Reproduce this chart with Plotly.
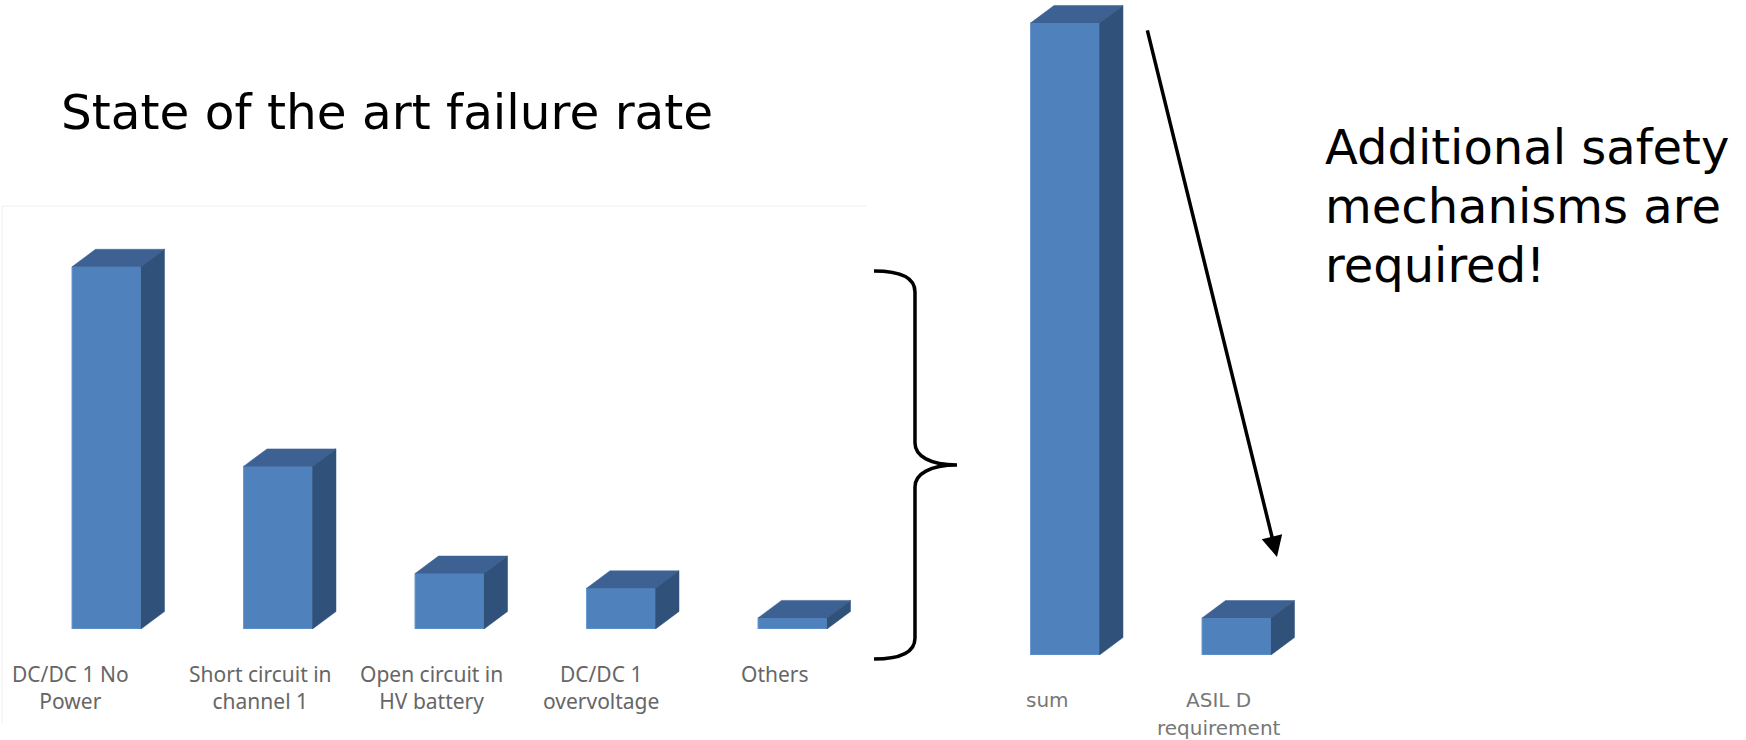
import plotly.graph_objects as go

# ---- data ---------------------------------------------------------------
failure_modes = [
    "DC/DC 1 No<br>Power",
    "Short circuit in<br>channel 1",
    "Open circuit in<br>HV battery",
    "DC/DC 1<br>overvoltage",
    "Others",
]
failure_rates = [98, 44, 15, 11, 3]

summary_labels = ["sum", "ASIL D<br>requirement"]
asil_d_requirement = 10
summary_values = [sum(failure_rates), asil_d_requirement]

title_text = "State of the art failure rate"
note_lines = ["Additional safety", "mechanisms are", "required!"]

# ---- page geometry and style --------------------------------------------
W, H = 1746, 740
PX_PER_CAT = 171.5          # horizontal pixels per category step
PX_PER_UNIT = 3.696         # vertical pixels per failure-rate unit
BAR_W = 69 / PX_PER_CAT     # front-face width in category units
DEPTH_X = 23.5 / PX_PER_CAT # 3-D extrusion, horizontal
DEPTH_Y = 17.5 / PX_PER_UNIT  # 3-D extrusion, vertical

FRONT = "#4F81BD"
TOP = "#3C6192"
SIDE = "#30517A"
EDGE = "#6A9AD2"

# left panel: pixel box and first-category centre / baseline
L_X0, L_X1, L_C0 = 2, 866, 106.5
L_TOP, L_BASE = 206, 629
# right panel
R_X0, R_X1, R_C0 = 960, 1420, 1065
R_TOP, R_BASE = 0, 655


def px(x):
    return x / W


def py(y):
    return 1 - y / H


def faces(values):
    """Top and side parallelograms of extruded bars, in axis units."""
    tx, ty, sx, sy = [], [], [], []
    for i, v in enumerate(values):
        l, r = i - BAR_W / 2, i + BAR_W / 2
        tx += [l, r, r + DEPTH_X, l + DEPTH_X, l, None]
        ty += [v, v, v + DEPTH_Y, v + DEPTH_Y, v, None]
        sx += [r, r + DEPTH_X, r + DEPTH_X, r, r, None]
        sy += [0, DEPTH_Y, v + DEPTH_Y, v, 0, None]
    return tx, ty, sx, sy


def bar3d(values, xa, ya):
    pos = list(range(len(values)))
    tx, ty, sx, sy = faces(values)
    return [
        go.Bar(x=pos, y=values, width=BAR_W, xaxis=xa, yaxis=ya,
               marker=dict(color=FRONT, line=dict(color=EDGE, width=1)),
               hoverinfo="skip", showlegend=False),
        go.Scatter(x=tx, y=ty, xaxis=xa, yaxis=ya, mode="lines", fill="toself",
                   fillcolor=TOP, line=dict(color=TOP, width=0.5),
                   hoverinfo="skip", showlegend=False),
        go.Scatter(x=sx, y=sy, xaxis=xa, yaxis=ya, mode="lines", fill="toself",
                   fillcolor=SIDE, line=dict(color=SIDE, width=0.5),
                   hoverinfo="skip", showlegend=False),
    ]


fig = go.Figure(bar3d(failure_rates, "x", "y") + bar3d(summary_values, "x2", "y2"))

hidden = dict(visible=False, showgrid=False, zeroline=False, fixedrange=True)
fig.update_layout(
    width=W, height=H, margin=dict(l=0, r=0, t=0, b=0),
    paper_bgcolor="white", plot_bgcolor="rgba(0,0,0,0)",
    xaxis=dict(hidden, domain=[px(L_X0), px(L_X1)],
               range=[(L_X0 - L_C0) / PX_PER_CAT, (L_X1 - L_C0) / PX_PER_CAT], anchor="y"),
    yaxis=dict(hidden, domain=[py(L_BASE), py(L_TOP)],
               range=[0, (L_BASE - L_TOP) / PX_PER_UNIT], anchor="x"),
    xaxis2=dict(hidden, domain=[px(R_X0), px(R_X1)],
                range=[(R_X0 - R_C0) / PX_PER_CAT, (R_X1 - R_C0) / PX_PER_CAT], anchor="y2"),
    yaxis2=dict(hidden, domain=[py(R_BASE), py(R_TOP)],
                range=[0, (R_BASE - R_TOP) / PX_PER_UNIT], anchor="x2"),
)

# faint chart-area frame around the left panel
frame_col = "#eeeeee"
shapes = [
    dict(type="line", xref="paper", yref="paper", x0=px(L_X0), x1=px(L_X1),
         y0=py(L_TOP), y1=py(L_TOP), line=dict(color=frame_col, width=1)),
    dict(type="line", xref="paper", yref="paper", x0=px(L_X0), x1=px(L_X0),
         y0=py(L_TOP), y1=py(723), line=dict(color=frame_col, width=1)),
]

# curly brace grouping the individual failure modes
brace_pts = [
    ("M", [(874, 271)]),
    ("C", [(900, 271), (915, 277), (915, 292)]),
    ("L", [(915, 443)]),
    ("C", [(915, 456), (930, 465), (957, 465)]),
    ("C", [(930, 465), (915, 474), (915, 487)]),
    ("L", [(915, 638)]),
    ("C", [(915, 653), (900, 659), (874, 659)]),
]
path = " ".join(cmd + " " + " ".join(f"{px(a):.5f},{py(b):.5f}" for a, b in pts)
                for cmd, pts in brace_pts)
shapes.append(dict(type="path", xref="paper", yref="paper", path=path,
                   line=dict(color="black", width=3.5)))
fig.update_layout(shapes=shapes)

ann = []
# title and note
ann.append(dict(text=title_text, xref="paper", yref="paper", x=px(59), y=py(112),
                xanchor="left", yanchor="middle", showarrow=False,
                font=dict(family="DejaVu Sans", size=48.5, color="black")))
for k, line in enumerate(note_lines):
    ann.append(dict(text=line, xref="paper", yref="paper", x=px(1323), y=py(147 + 59 * k),
                    xanchor="left", yanchor="middle", showarrow=False,
                    font=dict(family="DejaVu Sans", size=48, color="black")))

# category labels
left_shift = [-36, -18, -18, -20, -18]
for i, lab in enumerate(failure_modes):
    ann.append(dict(text=lab, xref="x", yref="y", x=i, y=0, xanchor="center",
                    yanchor="top", xshift=left_shift[i], yshift=-29, showarrow=False,
                    font=dict(family="Noto Sans", size=21, color="#666666")))
for i, lab in enumerate(summary_labels):
    for k, part in enumerate(lab.split("<br>")):
        ann.append(dict(text=part, xref="x2", yref="y2", x=i, y=0, xanchor="center",
                        yanchor="top", xshift=-18, yshift=-31 - 28 * k, showarrow=False,
                        font=dict(family="DejaVu Sans", size=20, color="#777777")))

# arrow from the summed rate down to the ASIL D target
ann.append(dict(text="", xref="x2", yref="y2", axref="x2", ayref="y2",
                x=1.236, y=summary_values[1] + 16.5,
                ax=0.478, ay=summary_values[0] - 1.6,
                showarrow=True, arrowhead=2, arrowsize=1.2, arrowwidth=3.5,
                arrowcolor="black"))
fig.update_layout(annotations=ann)

fig.write_html("out.html", config=dict(displayModeBar=False))
